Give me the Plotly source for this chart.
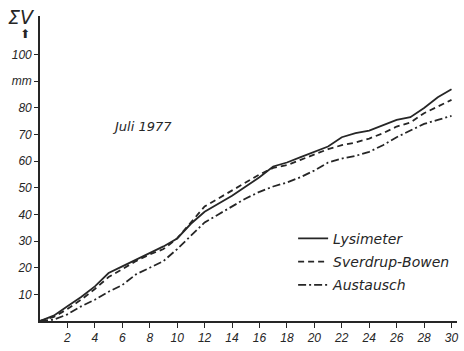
import plotly.graph_objects as go

# Cumulative evaporation, July 1977 (mm), by day of month
days = list(range(0, 31))
lysimeter = [0, 2, 5.5, 9, 13, 18, 20.5, 23, 25.5, 28, 31, 36.5, 41, 44, 47, 50.5,
             54, 58, 59.5, 61.5, 63.5, 65.5, 69, 70.5, 71.5, 73.5, 75.5, 76.5, 80, 84, 87]
sverdrup_bowen = [0, 1.5, 4.5, 8, 12, 16.5, 19.5, 22.5, 25, 27, 31, 37, 43, 46, 49, 52,
                  55, 57.5, 58.5, 60.5, 62.5, 64.5, 66, 67, 68.5, 70.5, 73, 74.5, 78, 80.5, 83]
austausch = [0, 0.5, 2.5, 5.5, 8, 11, 13.5, 17.5, 20, 22.5, 27, 32, 37, 40, 43, 46,
             48.5, 50.5, 52, 54, 56.5, 59.5, 61, 62, 63.5, 66, 69, 71.5, 74, 75.5, 77]

x_ticks = list(range(2, 31, 2))
y_ticks = [10, 20, 30, 40, 50, 60, 70, 80, 90, 100]
y_tick_text = ["10", "20", "30", "40", "50", "60", "70", "80", "mm", "100"]

ink = "#262626"
tick_family = "Liberation Sans, DejaVu Sans, sans-serif"
text_family = "DejaVu Sans, sans-serif"

fig = go.Figure()
series = [
    ("Lysimeter", lysimeter, "solid"),
    ("Sverdrup-Bowen", sverdrup_bowen, "6px,4px"),
    ("Austausch", austausch, "8px,3px,2px,3px"),
]
for i, (name, vals, dash) in enumerate(series):
    fig.add_trace(go.Scatter(
        x=days, y=vals, mode="lines", name=name, legendgroup=f"g{i}",
        line=dict(color=ink, width=1.8, dash=dash),
    ))

fig.add_annotation(x=7.4, y=73, xref="x", yref="y", text="Juli 1977", showarrow=False,
                   font=dict(size=13, color=ink, family=text_family, style="italic"))

# axis caption: sum symbol with an upward arrow beneath it
fig.add_annotation(x=21, y=17, xref="paper", yref="paper", text="ΣV",
                   showarrow=False, xanchor="center", yanchor="middle",
                   font=dict(size=19, color=ink, family=text_family))
fig.add_annotation(x=24.5, y=34, xref="paper", yref="paper", text="⬆",
                   showarrow=False, xanchor="center", yanchor="middle",
                   font=dict(size=12, color=ink, family="DejaVu Sans"))

# convert the caption positions from pixels to paper fractions
W, H = 464, 351
ml, mr, mt, mb = 40, 6, 16, 22
pw, ph = W - ml - mr, H - mt - mb
for ann in fig.layout.annotations:
    if ann.xref == "paper":
        ann.x = (ann.x - ml) / pw
        ann.y = (H - mb - ann.y) / ph

fig.update_layout(
    width=W, height=H,
    margin=dict(l=ml, r=mr, t=mt, b=mb),
    paper_bgcolor="white", plot_bgcolor="white",
    font=dict(family=tick_family, size=12, color=ink, style="italic"),
    showlegend=True,
    legend=dict(x=0.607, y=0.322, xanchor="left", yanchor="top",
                bgcolor="rgba(0,0,0,0)", itemwidth=30, tracegroupgap=2,
                font=dict(size=14, family=text_family, color=ink, style="italic")),
    xaxis=dict(range=[0, 30.4], tickvals=x_ticks, ticks="outside", ticklen=5,
               tickwidth=1.2, tickcolor=ink, showline=True, linecolor=ink, linewidth=1.6,
               showgrid=False, zeroline=False, fixedrange=True,
               tickfont=dict(size=12, family=tick_family, color=ink, style="italic")),
    yaxis=dict(range=[0, 114.5], tickvals=y_ticks, ticktext=y_tick_text, ticks="outside",
               ticklen=4, tickwidth=1.2, tickcolor=ink, showline=True, linecolor=ink,
               linewidth=1.6, showgrid=False, zeroline=False, fixedrange=True,
               tickfont=dict(size=12, family=tick_family, color=ink, style="italic")),
)

fig.write_html("out.html")
